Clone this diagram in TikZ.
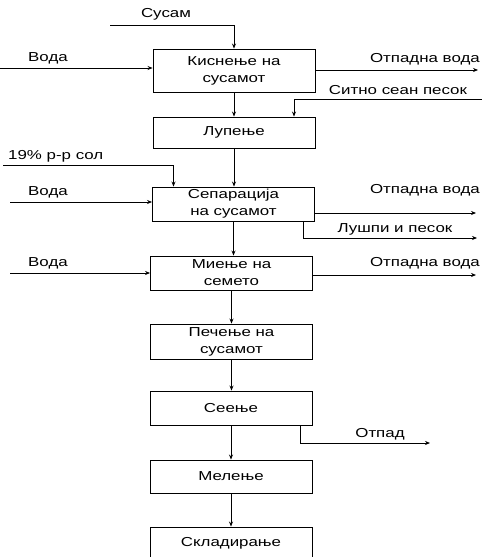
\documentclass[tikz,border=0pt]{standalone}
\usepackage{fontspec}
\setmainfont{Liberation Sans}
\newfontfamily\widesans[FakeStretch=1.3]{Liberation Sans}
\usetikzlibrary{arrows.meta}
\tikzset{
  box/.style={draw, line width=0.9pt, minimum width=162pt, inner sep=0pt,
    align=center, font=\widesans\fontsize{13}{17}\selectfont},
  lbl/.style={inner sep=0pt, font=\widesans\fontsize{13}{15}\selectfont},
  flow/.style={line width=0.7pt, -{Stealth[length=5pt,width=4pt]}},
}
\begin{document}
\begin{tikzpicture}[x=1pt,y=-1pt]
\useasboundingbox (0,0) rectangle (482,557);
% Boxes
\node[box, minimum height=43pt] (kisn) at (234,70.5) {Киснење на\\сусамот};
\node[box, minimum height=31pt] (lup) at (234,132.5) {Лупење};
\node[box, minimum height=34pt] (sep) at (233.5,204) {Сепарација\\на сусамот};
\node[box, minimum height=34pt] (mien) at (231.5,273) {Миење на\\семето};
\node[box, minimum height=35pt] (pec) at (231.5,341.5) {Печење на\\сусамот};
\node[box, minimum height=34pt] (seen) at (231,408) {Сеење};
\node[box, minimum height=33pt] (mel) at (231,476.5) {Мелење};
\node[box, minimum height=33pt] (skl) at (231,543.5) {Складирање};
% Labels
\node[lbl] (susam) at (166,14) {Сусам};
\node[lbl] (voda1) at (48,58) {Вода};
\node[lbl, anchor=east] (otp1) at (480,59) {Отпадна вода};
\node[lbl] (sitno) at (398,90) {Ситно сеан песок};
\node[lbl, anchor=west] (sol) at (8,156) {19\% р-р сол};
\node[lbl] (voda2) at (48,192) {Вода};
\node[lbl, anchor=east] (otp2) at (480,190) {Отпадна вода};
\node[lbl] (lusp) at (395,229) {Лушпи и песок};
\node[lbl] (voda3) at (48,263) {Вода};
\node[lbl, anchor=east] (otp3) at (480,263) {Отпадна вода};
\node[lbl] (otpad) at (380,434) {Отпад};
% Free ends
\coordinate (susamin) at (110,25);
\coordinate (voda1in) at (0,68);
\coordinate (otp1out) at (478,70);
\coordinate (sitnoin) at (482,99);
\coordinate (solin) at (3,165);
\coordinate (voda2in) at (10,202);
\coordinate (otp2out) at (476,213);
\coordinate (luspout) at (477,238);
\coordinate (voda3in) at (10,273);
\coordinate (otp3out) at (476,275);
\coordinate (otpadout) at (430,443);
% Lines
\draw[flow] (susamin) -| (kisn.north);
\draw[flow] (voda1in) -- (voda1in -| kisn.west);
\draw[flow] (otp1out -| kisn.east) -- (otp1out);
\draw[flow] (kisn.south) -- (kisn.south |- lup.north);
\draw[flow] (sitnoin) -| ([xshift=60pt]lup.north);
\draw[flow] (solin) -| ([xshift=-60pt]sep.north);
\draw[flow] (lup.south) -- (lup.south |- sep.north);
\draw[flow] (voda2in) -- (voda2in -| sep.west);
\draw[flow] (otp2out -| sep.east) -- (otp2out);
\draw[flow] ([xshift=70pt]sep.south) |- (luspout);
\draw[flow] (sep.south) -- (sep.south |- mien.north);
\draw[flow] (voda3in) -- (voda3in -| mien.west);
\draw[flow] (otp3out -| mien.east) -- (otp3out);
\draw[flow] (mien.south) -- (mien.south |- pec.north);
\draw[flow] (pec.south) -- (pec.south |- seen.north);
\draw[flow] ([xshift=69pt]seen.south) |- (otpadout);
\draw[flow] (seen.south) -- (seen.south |- mel.north);
\draw[flow] (mel.south) -- (mel.south |- skl.north);
\end{tikzpicture}
\end{document}
